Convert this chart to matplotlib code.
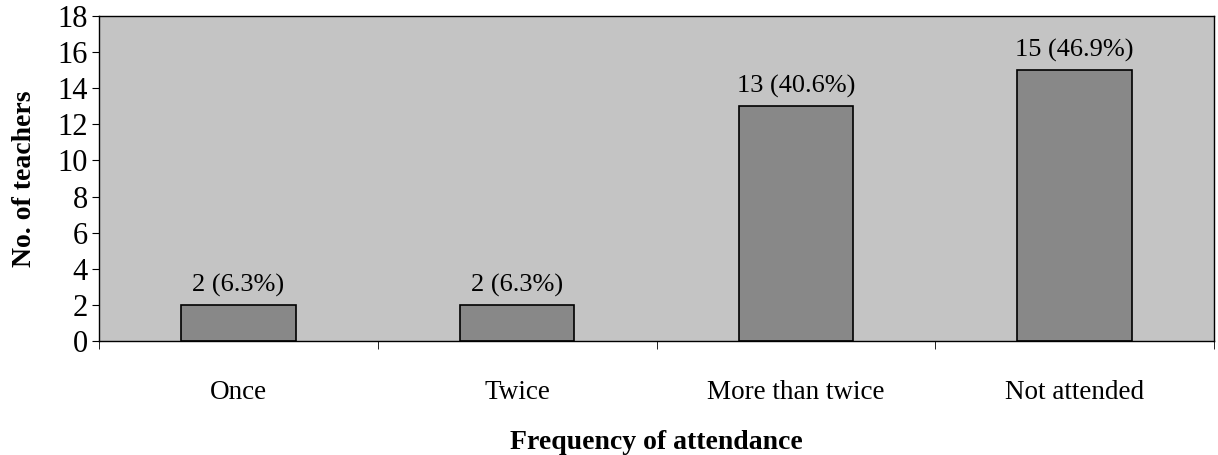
import numpy as np
import matplotlib.pyplot as plt

categories = ["Once", "Twice", "More than twice", "Not attended"]
counts = [2, 2, 13, 15]
percents = [6.3, 6.3, 40.6, 46.9]

plt.rcParams["font.family"] = ["Liberation Serif", "DejaVu Serif"]

fig = plt.figure(figsize=(12.18, 4.55), dpi=100)
ax = fig.add_axes([0.0813, 0.2505, 0.9154, 0.7145])
ax.set_facecolor("#c4c4c4")

x = np.arange(len(categories))
bars = ax.bar(x, counts, width=0.41, color="#888888", edgecolor="black", linewidth=1.2)

for xi, c, p in zip(x, counts, percents):
    ax.text(xi, c + 0.45, f"{c} ({p}%)", ha="center", va="bottom", fontsize=19)

ax.set_xlim(-0.5, len(categories) - 0.5)
ax.set_ylim(0, 18)
ax.set_yticks(range(0, 19, 2))
ax.tick_params(axis="y", labelsize=22, length=5, direction="out", pad=3)

ax.set_xticks(x)
ax.set_xticklabels(categories, fontsize=19.5)
ax.tick_params(axis="x", length=0, pad=28)
ax.set_xticks(np.arange(-0.5, len(categories)), minor=True)
ax.tick_params(axis="x", which="minor", length=6, direction="out")

ax.set_ylabel("No. of teachers", fontsize=20, fontweight="bold", labelpad=15)
ax.set_xlabel("Frequency of attendance", fontsize=20, fontweight="bold", labelpad=18)

for s in ax.spines.values():
    s.set_linewidth(1.0)

plt.savefig("out.png", dpi=100)
